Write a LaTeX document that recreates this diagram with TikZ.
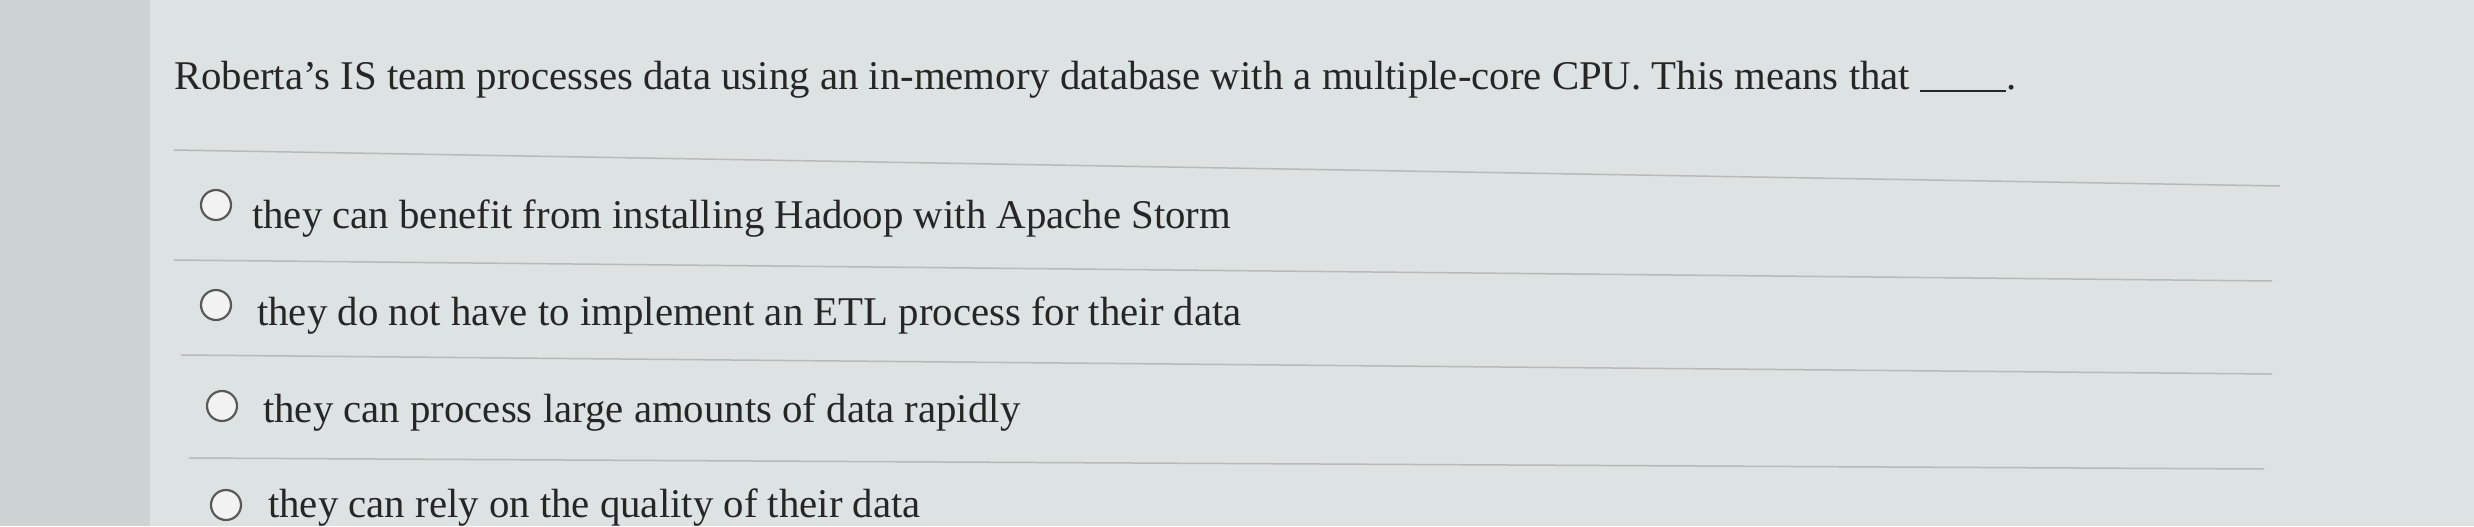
\documentclass[tikz,border=0pt]{standalone}
\usepackage{fontspec}
\setmainfont{Liberation Serif}
\begin{document}
\begin{tikzpicture}[x=1pt,y=-1pt,
  txt/.style={anchor=west,inner sep=0pt,font=\fontsize{40.8}{44}\selectfont,text=black!85},
  sep/.style={draw=gray!55,line width=1.5pt},
  radio/.style={circle,draw=gray!70!black,line width=2.2pt,minimum size=30pt,inner sep=0pt,fill=white!90!gray}]
\fill[fill={rgb,255:red,221;green,227;blue,226}] (0,0) rectangle (2474,526);
\fill[fill={rgb,255:red,205;green,210;blue,210}] (0,0) rectangle (150,526);
\node[txt] (q) at (174,80) {Roberta\char"0027{}s IS team processes data using an in-memory database with a multiple-core CPU. This means that \rule[-2pt]{86pt}{1.5pt}.};
\coordinate (s0a) at (174,150); \coordinate (s0b) at (2280,186);
\coordinate (s1a) at (174,260); \coordinate (s1b) at (2272,281);
\coordinate (s2a) at (181,355); \coordinate (s2b) at (2272,374);
\coordinate (s3a) at (189,458); \coordinate (s3b) at (2264,469);
\draw[sep] (s0a) -- (s0b);
\draw[sep] (s1a) -- (s1b);
\draw[sep] (s2a) -- (s2b);
\draw[sep] (s3a) -- (s3b);
\node[radio] (r1) at (216,205) {};
\node[txt] (o1) at (252,219) {they can benefit from installing Hadoop with Apache Storm};
\node[radio] (r2) at (216,305) {};
\node[txt] (o2) at (257,316) {they do not have to implement an ETL process for their data};
\node[radio] (r3) at (222,406) {};
\node[txt] (o3) at (263,413) {they can process large amounts of data rapidly};
\node[radio] (r4) at (226,505) {};
\node[txt] (o4) at (268,508) {they can rely on the quality of their data};
\end{tikzpicture}
\end{document}
